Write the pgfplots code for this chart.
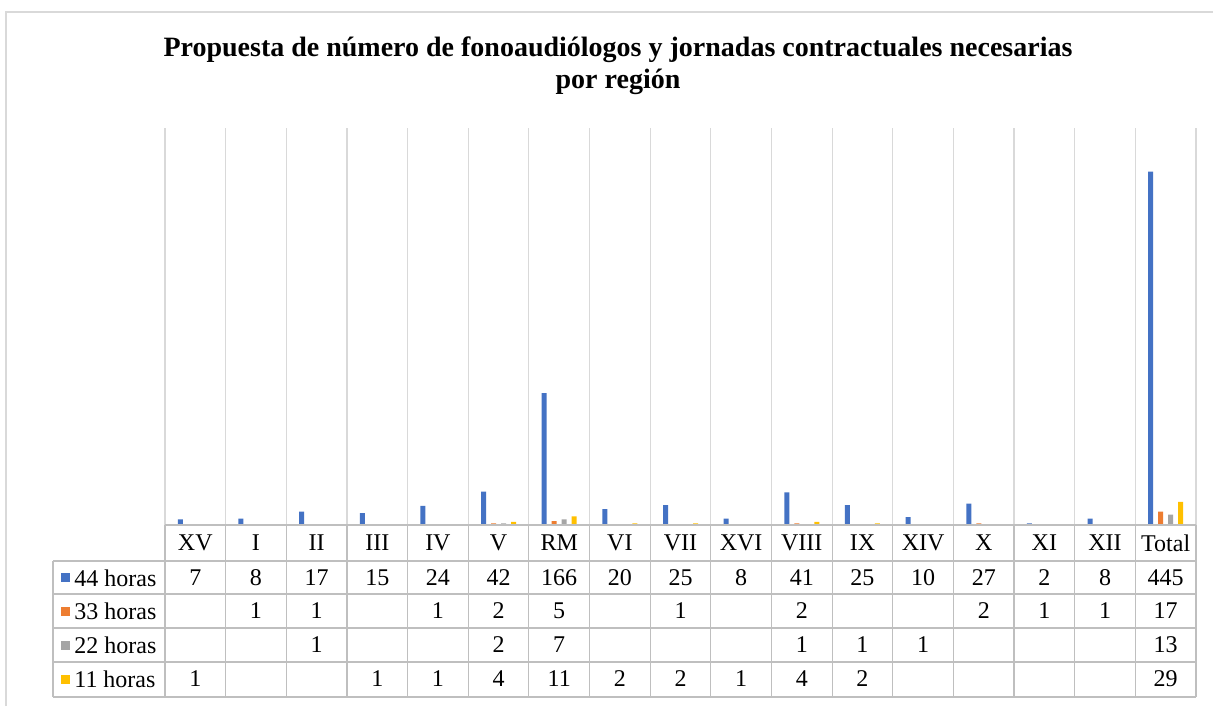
\documentclass[border=0pt]{standalone}
\usepackage{pgfplots}
\pgfplotsset{compat=1.18}
\usepackage{fontspec}
\setmainfont{Liberation Serif}
\definecolor{c44}{HTML}{4472C4}
\definecolor{c33}{HTML}{ED7D31}
\definecolor{c22}{HTML}{A5A5A5}
\definecolor{c11}{HTML}{FFC000}
\definecolor{gridc}{HTML}{D9D9D9}
\definecolor{tabc}{HTML}{BFBFBF}
\begin{document}
\begin{tikzpicture}[x=0.5pt,y=0.5pt]
\path[use as bounding box, fill=white] (0,0) rectangle (1213,706);
\draw[gridc, line width=0.6pt] (6,0) -- (6,694) -- (1213,694);
\node[font=\bfseries\fontsize{14}{16}\selectfont] at (618,656) {Propuesta de número de fonoaudiólogos y jornadas contractuales necesarias};
\node[font=\bfseries\fontsize{14}{16}\selectfont] at (618,624) {por región};
\begin{axis}[at={(82.5pt,90.5pt)}, anchor=south west,
  scale only axis, width=515.5pt, height=198.5pt,
  xmin=-0.5, xmax=16.5, ymin=0, ymax=500,
  axis line style={draw=none},
  ytick=\empty, xtick={-0.5,0.5,...,16.5}, xticklabels={},
  major tick length=0pt,
  xmajorgrids, grid style={gridc, line width=0.6pt},
  ybar=2.5pt, bar width=2.5pt, clip=false]
\addplot[fill=c44, draw=none] coordinates {(0,7)(1,8)(2,17)(3,15)(4,24)(5,42)(6,166)(7,20)(8,25)(9,8)(10,41)(11,25)(12,10)(13,27)(14,2)(15,8)(16,445)};
\addplot[fill=c33, draw=none] coordinates {(1,1)(2,1)(4,1)(5,2)(6,5)(8,1)(10,2)(13,2)(14,1)(15,1)(16,17)};
\addplot[fill=c22, draw=none] coordinates {(2,1)(5,2)(6,7)(10,1)(11,1)(12,1)(16,13)};
\addplot[fill=c11, draw=none] coordinates {(0,1)(3,1)(4,1)(5,4)(6,11)(7,2)(8,2)(9,1)(10,4)(11,2)(16,29)};
\end{axis}
% data table
\def\cw{60.647}
\draw[tabc, line width=0.6pt] (165,181) -- (1196,181);
\foreach \yy in {145,112,78,44,9} \draw[tabc, line width=0.6pt] (53,\yy) -- (1196,\yy);
\draw[tabc, line width=0.6pt] (53,145) -- (53,9);
\foreach \k in {0,...,17} \draw[tabc, line width=0.6pt] ({165+\cw*\k},181) -- ({165+\cw*\k},9);
\begin{scope}[every node/.style={font=\fontsize{12}{14}\selectfont, inner sep=0pt}]
\foreach \n [count=\i from 0] in {XV,I,II,III,IV,V,RM,VI,VII,XVI,VIII,IX,XIV,X,XI,XII,Total}
  \node at ({165+\cw*(\i+0.5)},163) {\n};
\foreach \n [count=\i from 0] in {7,8,17,15,24,42,166,20,25,8,41,25,10,27,2,8,445}
  \node at ({165+\cw*(\i+0.5)},128) {\n};
\foreach \n [count=\i from 0] in {{},1,1,{},1,2,5,{},1,{},2,{},{},2,1,1,17}
  \node at ({165+\cw*(\i+0.5)},95) {\n};
\foreach \n [count=\i from 0] in {{},{},1,{},{},2,7,{},{},{},1,1,1,{},{},{},13}
  \node at ({165+\cw*(\i+0.5)},61) {\n};
\foreach \n [count=\i from 0] in {1,{},{},1,1,4,11,2,2,1,4,2,{},{},{},{},29}
  \node at ({165+\cw*(\i+0.5)},27) {\n};
\foreach \c/\t/\yy in {c44/44 horas/128, c33/33 horas/95, c22/22 horas/61, c11/11 horas/27} {
  \fill[\c] (61,\yy-4.5) rectangle (70,\yy+4.5);
  \node[anchor=west] at (74,\yy) {\t};
}
\end{scope}
\end{tikzpicture}
\end{document}
